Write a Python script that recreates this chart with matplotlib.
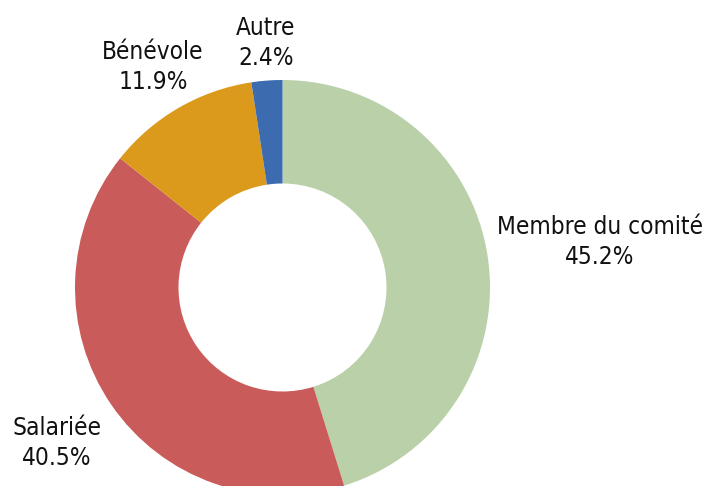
import matplotlib
matplotlib.use("Agg")
import matplotlib.pyplot as plt
from matplotlib import font_manager

categories = ["Membre du comité", "Salariée", "Bénévole", "Autre"]
values = [45.2, 40.5, 11.9, 2.4]
colors = ["#b9d0a9", "#c95c5a", "#dc9a1c", "#3c6bb0"]

has_cond = any(f.name == "DejaVu Sans" and f.stretch == "condensed"
               for f in font_manager.fontManager.ttflist)

W, H = 709, 486
fig = plt.figure(figsize=(W / 100, H / 100), dpi=100)
ax = fig.add_axes([0, 0, 1, 1])

cx, cy = 282.5, H - 287.5
R = 207.5
ax.pie(values, colors=colors, startangle=90, counterclock=False,
       center=(cx, cy), radius=R, wedgeprops=dict(width=R - 104, edgecolor="none"),
       frame=True)
ax.set_xlim(0, W)
ax.set_ylim(0, H)
ax.set_aspect("equal")
ax.axis("off")

label_pos = [(600, 242), (57, 443), (153, 67), (266, 43)]
for cat, v, (x, y) in zip(categories, values, label_pos):
    ax.text(x, H - y, f"{cat}\n{v:.1f}%", ha="center", va="center",
            fontsize=17.5 if has_cond else 16, family="DejaVu Sans",
            fontstretch="condensed", linespacing=1.3, color="#111111")

ax.text(5, 5, "C" if has_cond else "N", fontsize=1, color="white")
fig.savefig("out.png", dpi=100)
